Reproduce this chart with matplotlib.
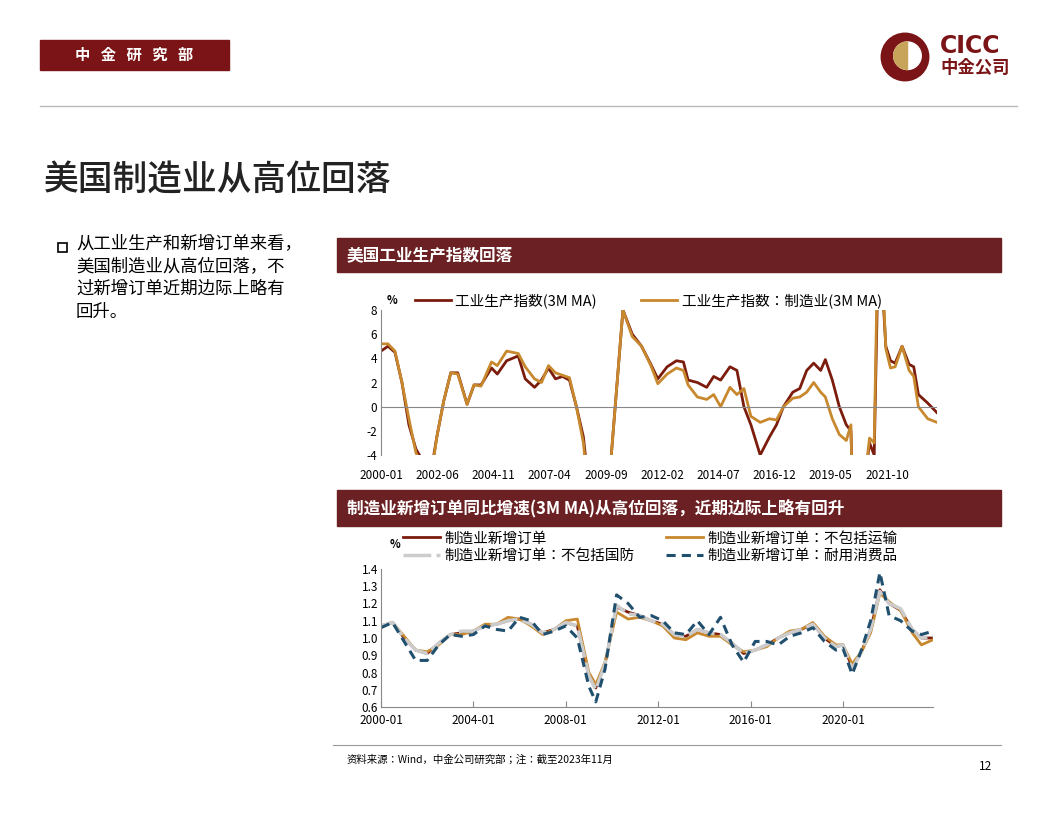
import matplotlib
matplotlib.use("Agg")
import matplotlib.pyplot as plt
import numpy as np
from matplotlib.patches import Rectangle, Circle, Wedge
plt.rcParams['font.family'] = ['Noto Sans CJK JP', 'DejaVu Sans']
plt.rcParams['axes.unicode_minus'] = False

# ---- top chart data (year-fraction, %) ----
ip_t = [2000.0,2000.3,2000.6,2000.9,2001.2,2001.5,2001.8,2002.1,2002.4,2002.7,2003.0,2003.3,2003.7,2004.0,2004.3,2004.75,2005.0,2005.4,2005.9,2006.2,2006.6,2006.9,2007.2,2007.5,2007.8,2008.1,2008.4,2008.7,2009.0,2009.4,2009.9,2010.4,2010.8,2011.2,2011.6,2011.9,2012.3,2012.7,2013.0,2013.2,2013.6,2014.0,2014.3,2014.6,2015.0,2015.3,2015.6,2015.9,2016.3,2016.7,2017.0,2017.3,2017.7,2018.0,2018.3,2018.6,2018.9,2019.1,2019.4,2019.7,2020.0,2020.2,2020.4,2020.8,2021.0,2021.2,2021.4,2021.7,2021.9,2022.1,2022.4,2022.7,2022.9,2023.1,2023.5,2023.9]
ip_v = [4.6,5.0,4.5,2.0,-1.5,-3.5,-4.5,-6.0,-2.5,0.5,2.8,2.8,0.2,1.8,1.8,3.2,2.7,3.8,4.2,2.3,1.6,2.2,3.2,2.3,2.5,2.2,0.0,-2.5,-8.0,-13.0,-4.0,8.0,6.0,5.0,3.5,2.3,3.3,3.8,3.7,2.2,2.0,1.6,2.5,2.2,3.3,3.0,0.0,-1.5,-4.0,-2.5,-1.5,0.0,1.2,1.5,3.0,3.6,3.0,3.9,2.2,0.0,-1.5,-2.0,-15.0,-6.0,-3.0,-4.0,15.0,5.0,3.8,3.6,5.0,3.5,3.3,1.0,0.3,-0.5]
mfg_v = [5.2,5.2,4.6,2.0,-1.0,-3.8,-5.0,-6.5,-2.5,0.5,2.8,2.7,0.2,1.8,1.7,3.7,3.4,4.6,4.4,3.3,2.3,2.0,3.4,2.8,2.6,2.4,0.0,-3.0,-9.0,-14.0,-4.0,8.0,5.8,5.0,3.4,1.9,2.7,3.2,3.0,1.8,0.8,0.6,1.0,0.0,1.6,1.0,1.5,-0.8,-1.3,-1.0,-1.1,0.0,0.7,0.8,1.2,2.0,1.2,0.8,-1.0,-2.3,-2.8,-1.5,-20.0,-6.0,-2.6,-3.0,18.0,4.8,3.2,3.3,5.0,3.0,2.5,0.0,-1.0,-1.3]
top_ticks = ['2000-01','2002-06','2004-11','2007-04','2009-09','2012-02','2014-07','2016-12','2019-05','2021-10']

# ---- bottom chart data ----
no_t = [2000.0,2000.5,2001.0,2001.5,2002.0,2002.5,2003.0,2003.5,2004.0,2004.5,2005.0,2005.5,2006.0,2006.5,2007.0,2007.5,2008.0,2008.5,2009.0,2009.3,2009.7,2010.2,2010.7,2011.2,2011.7,2012.2,2012.7,2013.2,2013.7,2014.2,2014.7,2015.2,2015.7,2016.2,2016.7,2017.2,2017.7,2018.2,2018.7,2019.2,2019.7,2020.0,2020.4,2020.8,2021.2,2021.6,2022.0,2022.5,2023.0,2023.4,2023.9]
no_v   = [1.07,1.09,1.00,0.93,0.91,0.97,1.02,1.03,1.04,1.07,1.08,1.10,1.11,1.08,1.03,1.05,1.09,1.07,0.78,0.71,0.85,1.18,1.15,1.13,1.10,1.08,1.02,1.01,1.05,1.03,1.02,0.97,0.91,0.93,0.96,1.00,1.03,1.05,1.08,1.00,0.95,0.96,0.83,0.92,1.05,1.28,1.20,1.16,1.05,1.00,1.00]
nox_v  = [1.07,1.09,1.01,0.93,0.92,0.96,1.02,1.02,1.04,1.08,1.08,1.12,1.11,1.07,1.02,1.05,1.10,1.11,0.80,0.73,0.86,1.15,1.11,1.12,1.10,1.07,1.00,0.99,1.03,1.01,1.01,0.96,0.92,0.93,0.95,1.00,1.04,1.05,1.09,1.01,0.96,0.96,0.85,0.92,1.03,1.26,1.21,1.16,1.03,0.96,0.99]
nodf_v = [1.07,1.09,1.00,0.93,0.91,0.97,1.02,1.04,1.04,1.07,1.08,1.10,1.11,1.08,1.03,1.05,1.09,1.07,0.78,0.70,0.85,1.19,1.14,1.13,1.10,1.08,1.02,1.01,1.05,1.03,1.02,0.97,0.91,0.93,0.96,1.00,1.03,1.05,1.08,1.00,0.95,0.96,0.82,0.92,1.05,1.27,1.20,1.17,1.05,1.00,1.01]
dur_v  = [1.06,1.09,0.98,0.87,0.87,0.96,1.02,1.01,1.02,1.07,1.05,1.04,1.12,1.10,1.02,1.04,1.07,1.00,0.72,0.63,0.82,1.25,1.20,1.12,1.13,1.10,1.03,1.02,1.10,1.02,1.12,0.96,0.86,0.98,0.98,0.96,1.01,1.03,1.06,0.98,0.93,0.94,0.79,0.93,1.10,1.38,1.13,1.10,1.04,1.02,1.04]
bot_ticks = ['2000-01','2004-01','2008-01','2012-01','2016-01','2020-01']

def ym(s):
    y, m = s.split('-'); return int(y) + (int(m) - 1) / 12

fig = plt.figure(figsize=(10.56, 8.16), dpi=100)
W, H = 1056, 816
def fx(x): return x / W
def fy(y): return 1 - y / H
def rect(x0, y0, x1, y1, c):
    fig.add_artist(Rectangle((fx(x0), fy(y1)), fx(x1) - fx(x0), fy(y0) - fy(y1), color=c, transform=fig.transFigure))

RED = '#7a1416'
rect(40, 40, 229, 70, RED)
fig.text(fx(134), fy(55), '中   金   研   究   部', color='white', fontsize=11, fontweight='bold', ha='center', va='center')
fig.add_artist(plt.Line2D([fx(40), fx(1017)], [fy(106), fy(106)], color='#bbbbbb', lw=1, transform=fig.transFigure))
fig.text(fx(44), fy(180), '美国制造业从高位回落', fontsize=25, ha='left', va='center', color='#222222', fontweight='medium')
# logo
ax_logo = fig.add_axes([fx(880), fy(82), fx(50), 50 / H])
ax_logo.set_xlim(-1, 1); ax_logo.set_ylim(-1, 1); ax_logo.axis('off'); ax_logo.set_aspect('equal')
ax_logo.add_patch(Circle((0, 0), 0.95, color=RED))
ax_logo.add_patch(Circle((0.1, 0.05), 0.55, color='white'))
ax_logo.add_patch(Wedge((0.1, 0.05), 0.55, 90, 270, color='#c8a45a'))
fig.text(fx(940), fy(46), 'CICC', fontsize=17, fontweight='bold', color=RED, ha='left', va='center', family='DejaVu Sans')
fig.text(fx(940), fy(68), '中金公司', fontsize=12.5, fontweight='bold', color=RED, ha='left', va='center')
# bullet
fig.add_artist(Rectangle((fx(58), fy(252)), fx(9), 9 / H, fill=False, ec='black', lw=1.2, transform=fig.transFigure))
fig.text(fx(76), fy(234), '从工业生产和新增订单来看，\n美国制造业从高位回落，不\n过新增订单近期边际上略有\n回升。', fontsize=12.5, ha='left', va='top', linespacing=1.35)

BAR = '#6b2123'
rect(337, 238, 1001, 272, BAR)
fig.text(fx(347), fy(255), '美国工业生产指数回落', color='white', fontsize=12, fontweight='bold', va='center')
rect(337, 490, 1001, 526, BAR)
fig.text(fx(347), fy(508), '制造业新增订单同比增速(3M MA)从高位回落，近期边际上略有回升', color='white', fontsize=12, fontweight='bold', va='center')

DARK = '#7b1c0c'; GOLD = '#c8882e'
# top chart
ax1 = fig.add_axes([fx(381), fy(455), fx(937) - fx(381), (455 - 310) / H])
ax1.plot(ip_t, ip_v, color=DARK, lw=2, label='工业生产指数(3M MA)')
ax1.plot(ip_t, mfg_v, color=GOLD, lw=2, label='工业生产指数：制造业(3M MA)')
ax1.set_ylim(-4, 8); ax1.set_xlim(2000.0, 2023.9)
ax1.set_yticks(range(-4, 9, 2))
ax1.set_xticks([ym(s) for s in top_ticks]); ax1.set_xticklabels(top_ticks)
ax1.axhline(0, color='#888888', lw=0.8)
for s in ['top', 'right', 'bottom']: ax1.spines[s].set_visible(False)
ax1.spines['left'].set_color('#888888')
ax1.tick_params(labelsize=8.5, length=0, pad=3)
ax1.tick_params(axis='x', length=0, pad=10)
ax1.legend(loc='lower left', bbox_to_anchor=(0.05, 0.97), ncol=2, frameon=False, fontsize=10.5, handlelength=2.5, columnspacing=3, borderaxespad=0, handletextpad=0.3)
fig.text(fx(387), fy(300), '%', fontsize=8, fontweight='bold', ha='left', va='center')

# bottom chart
ax2 = fig.add_axes([fx(381), fy(707), fx(933) - fx(381), (707 - 569) / H])
l1, = ax2.plot(no_t, no_v, color=DARK, lw=2, label='制造业新增订单')
l2, = ax2.plot(no_t, nox_v, color=GOLD, lw=2, label='制造业新增订单：不包括运输')
l3, = ax2.plot(no_t, nodf_v, color='#cccccc', lw=2.5, label='制造业新增订单：不包括国防', dashes=(8, 1.5))
l4, = ax2.plot(no_t, dur_v, color='#21506f', lw=2.2, ls=(0, (3, 2)), label='制造业新增订单：耐用消费品')
ax2.set_ylim(0.6, 1.4); ax2.set_xlim(2000.0, 2023.9)
ax2.set_yticks(np.round(np.arange(0.6, 1.41, 0.1), 1))
ax2.set_yticklabels([f'{v:.1f}' for v in np.arange(0.6, 1.41, 0.1)])
ax2.set_xticks([ym(s) for s in bot_ticks]); ax2.set_xticklabels(bot_ticks)
for s in ['top', 'right']: ax2.spines[s].set_visible(False)
ax2.spines['left'].set_color('#888888'); ax2.spines['bottom'].set_color('#888888')
ax2.tick_params(labelsize=8.5, pad=2)
ax2.tick_params(axis='x', direction='in', length=4, color='#888888', pad=5)
ax2.tick_params(axis='y', length=0)
ax2.legend([l1, l3, l2, l4], [l.get_label() for l in [l1, l3, l2, l4]], loc='lower left', bbox_to_anchor=(0.03, 1.0), ncol=2, frameon=False, fontsize=10.5, handlelength=2.5, columnspacing=2.2, borderaxespad=0, labelspacing=0.25, handletextpad=0.3)
fig.text(fx(390), fy(545), '%', fontsize=8, fontweight='bold', ha='left', va='center')

fig.add_artist(plt.Line2D([fx(333), fx(1001)], [fy(745), fy(745)], color='#999999', lw=0.8, transform=fig.transFigure))
fig.text(fx(347), fy(760), '资料来源：Wind，中金公司研究部；注：截至2023年11月', fontsize=7.5, va='center')
fig.text(fx(992), fy(766), '12', fontsize=8.5, ha='right', va='center')

fig.savefig('out.png', dpi=100)
